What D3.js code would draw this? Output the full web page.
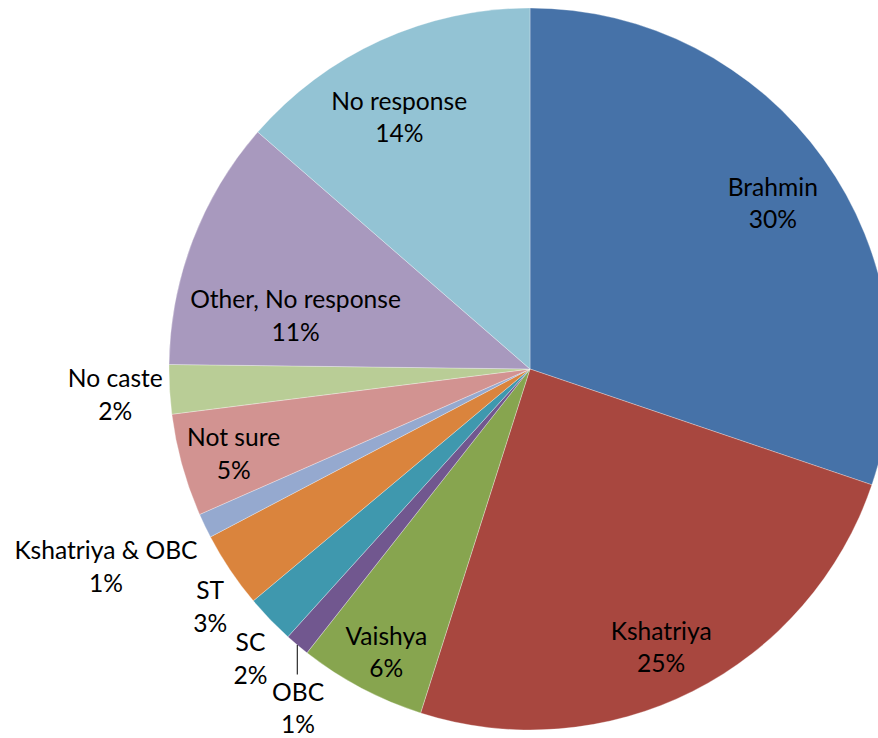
<!DOCTYPE html>
<html>
<head>
<meta charset="utf-8">
<script src="https://cdn.jsdelivr.net/npm/d3@7"></script>
<style>
  html, body { margin: 0; padding: 0; background: #fff; }
  svg { display: block; }
</style>
</head>
<body>
<svg id="chart" width="878" height="738"></svg>
<script>
// ---- data ----
const categories = ["Brahmin", "Kshatriya", "Vaishya", "OBC", "SC", "ST",
  "Kshatriya & OBC", "Not sure", "No caste", "Other, No response", "No response"];
const values = [30.2, 24.7, 5.7, 1.1, 2.2, 3.4, 1.1, 4.6, 2.2, 11.2, 13.6];
const colors = ["#4672A8", "#A8473F", "#87A54F", "#71578F", "#3F98AE", "#DA843D",
  "#95A9CF", "#D29391", "#B9CD96", "#A899BE", "#93C3D4"];
// label placement: radius as a fraction of the pie radius, angle shift (degrees) from slice middle
const labelRadius = [0.814, 0.853, 0.88, 1.139, 1.115, 1.104, 1.296, 0.854, 1.151, 0.666, 0.785];
const labelShift = [1.35, 1.6, -1, -5.8, -2.1, -2.8, 0.75, -0.5, -0.3, -8.1, -3];
const leaderLines = ["OBC"];

// ---- layout ----
const cx = 530, cy = 369, R = 361;
const fontSize = 24.6, lineGap = 32.5;

const svg = d3.select("#chart");
const g = svg.append("g").attr("transform", `translate(${cx},${cy})`);

const data = categories.map((c, i) => ({ name: c, value: values[i], i }));
const total = d3.sum(values);
const pie = d3.pie().value(d => d.value).sort(null).startAngle(0).endAngle(2 * Math.PI);
const arcs = pie(data);
const arc = d3.arc().innerRadius(0).outerRadius(R);
const color = d3.scaleOrdinal().domain(categories).range(colors);

g.selectAll("path.slice")
  .data(arcs)
  .join("path")
  .attr("class", "slice")
  .attr("d", arc)
  .attr("fill", d => color(d.data.name))
  .attr("stroke", "#ffffff")
  .attr("stroke-width", 0.5)
  .attr("stroke-opacity", 0.6);

const fmt = v => Math.round(v / total * 100) + "%";

const labels = g.selectAll("g.label")
  .data(arcs)
  .join("g")
  .attr("class", "label")
  .each(function (d) {
    const i = d.data.i;
    const mid = (d.startAngle + d.endAngle) / 2 + labelShift[i] * Math.PI / 180;
    const r = labelRadius[i] * R;
    d.lx = r * Math.sin(mid);
    d.ly = -r * Math.cos(mid);
  });

labels.append("text")
  .attr("text-anchor", "middle")
  .attr("font-family", "Lato, 'Open Sans', sans-serif")
  .attr("font-size", fontSize)
  .attr("fill", "#000")
  .each(function (d) {
    const t = d3.select(this);
    const capHalf = fontSize * 0.35;
    t.append("tspan").attr("x", d.lx).attr("y", d.ly - lineGap / 2 + capHalf).text(d.data.name);
    t.append("tspan").attr("x", d.lx).attr("y", d.ly + lineGap / 2 + capHalf).text(fmt(d.data.value));
  });

// leader lines
g.selectAll("line.leader")
  .data(arcs.filter(d => leaderLines.includes(d.data.name)))
  .join("line")
  .attr("class", "leader")
  .attr("x1", d => R * Math.sin((d.startAngle + d.endAngle) / 2))
  .attr("y1", d => -R * Math.cos((d.startAngle + d.endAngle) / 2))
  .attr("x2", d => R * Math.sin((d.startAngle + d.endAngle) / 2))
  .attr("y2", d => d.ly - 34)
  .attr("stroke", "#000")
  .attr("stroke-width", 1);
</script>
</body>
</html>
